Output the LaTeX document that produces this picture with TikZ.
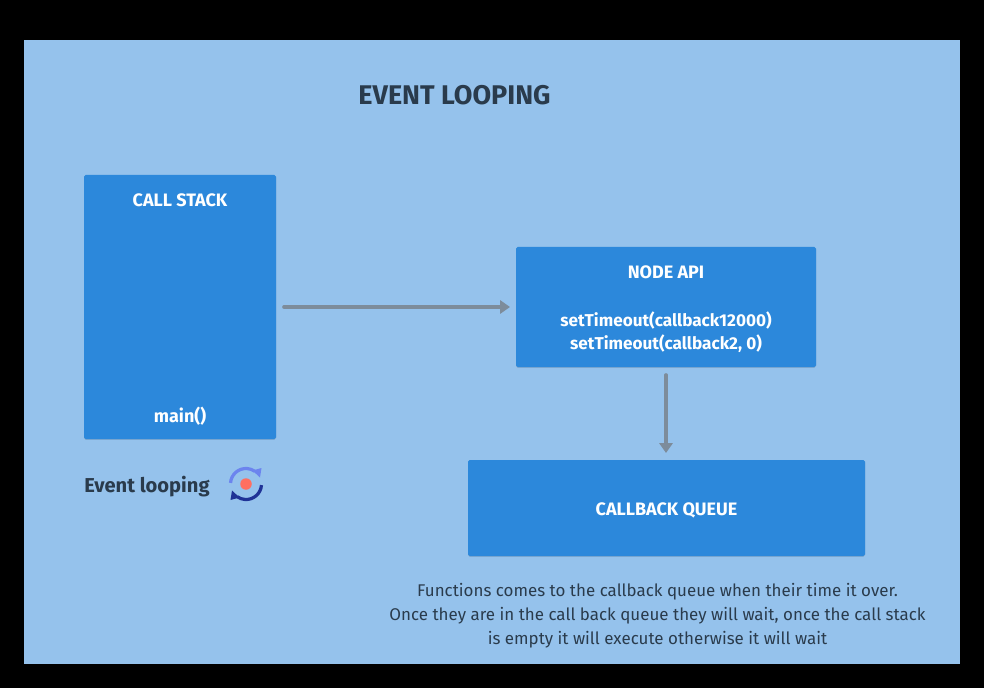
\documentclass[tikz,border=0pt]{standalone}
\usepackage{fontspec}
\setmainfont{Fira Sans}
\usepackage{xcolor}
\usetikzlibrary{positioning}
\usetikzlibrary{arrows.meta, shadows}
\definecolor{pagebg}{HTML}{95C2EC}
\definecolor{boxblue}{HTML}{2C88DB}
\definecolor{inkdark}{HTML}{2A3B4C}
\definecolor{arrowgray}{HTML}{7D8C9B}
\definecolor{loopa}{HTML}{6C84EE}
\definecolor{loopb}{HTML}{1F3296}
\definecolor{loopdot}{HTML}{FF6F61}
\tikzset{
  panel/.style={rectangle, rounded corners=1.2pt, fill=boxblue, inner sep=0pt,
    drop shadow={shadow xshift=0pt, shadow yshift=-0.6pt, opacity=0.12, fill=black}},
  boxlabel/.style={text=white, font=\fontsize{12.8}{15}\selectfont\bfseries, inner sep=0pt, align=center},
  boxtext/.style={text=white, font=\fontsize{12.2}{16.4}\selectfont\bfseries, inner sep=0pt, align=center},
  arrow/.style={draw=arrowgray, line width=2.6pt, line cap=round, -{Triangle[length=7pt,width=9.3pt]}},
}
\begin{document}
\begin{tikzpicture}[x=0.025cm,y=-0.025cm]
    \fill[black] (0,0) rectangle (984,688);
    \fill[pagebg] (24,40) rectangle (960,664);
    \useasboundingbox (0,0) rectangle (984,688);

    \node[text=inkdark, font=\fontsize{19.2}{22}\selectfont\bfseries, inner sep=0pt] (title) at (454.5,95) {EVENT LOOPING};

    \node[panel, minimum width=192*0.025cm, minimum height=264*0.025cm] (stack) at (180,307) {};
    \node[boxlabel] (stacklabel) at (180,200) {CALL STACK};
    \node[boxlabel] (mainfn) at (180,416) {main()};

    \node[panel, minimum width=300*0.025cm, minimum height=120*0.025cm] (api) at (666,307) {};
    \node[boxlabel] (apilabel) at (666,272) {NODE API};
    \node[boxtext] (apitext) at (666,332) {setTimeout(callback12000)\\setTimeout(callback2, 0)};

    \node[panel, minimum width=397*0.025cm, minimum height=96*0.025cm] (queue) at (666.5,508) {};
    \node[boxlabel] (queuelabel) at (666.5,510.5) {CALLBACK QUEUE};

    \coordinate (stackout) at (284,307);
    \coordinate (apiin) at (510,307);
    \coordinate (apiout) at (666,375);
    \coordinate (queuein) at (666,453);
    \draw[arrow] (stackout) -- (apiin);
    \draw[arrow] (apiout) -- (queuein);

    \node[text=inkdark, font=\fontsize{14.3}{17}\selectfont\bfseries, anchor=west, inner sep=0pt] (looping) at (84,486.5) {Event looping};

    % loop icon
    \coordinate (loopc) at (246,484);
    \draw[loopa, line width=2.3pt] (loopc) ++(184:15.5) arc[start angle=184, end angle=305, radius=15.5];
    \draw[loopb, line width=2.3pt] (loopc) ++(4:15.5) arc[start angle=4, end angle=125, radius=15.5];
    \fill[loopa] (252.5,470.5) -- (261.5,468) -- (260,477.5) -- cycle;
    \fill[loopb] (239.5,497.5) -- (230.5,500) -- (232,490.5) -- cycle;
    \node[circle, fill=loopdot, minimum size=11.5*0.025cm, inner sep=0pt] (loopdot) at (loopc) {};

    \node[text=inkdark, font=\fontsize{12.05}{17}\selectfont, align=center, inner sep=0pt] (note) at (657.5,616)
      {Functions comes to the callback queue when their time it over.\\Once they are in the call back queue they will wait, once the call stack\\is empty it will execute otherwise it will wait};
\end{tikzpicture}
\end{document}
